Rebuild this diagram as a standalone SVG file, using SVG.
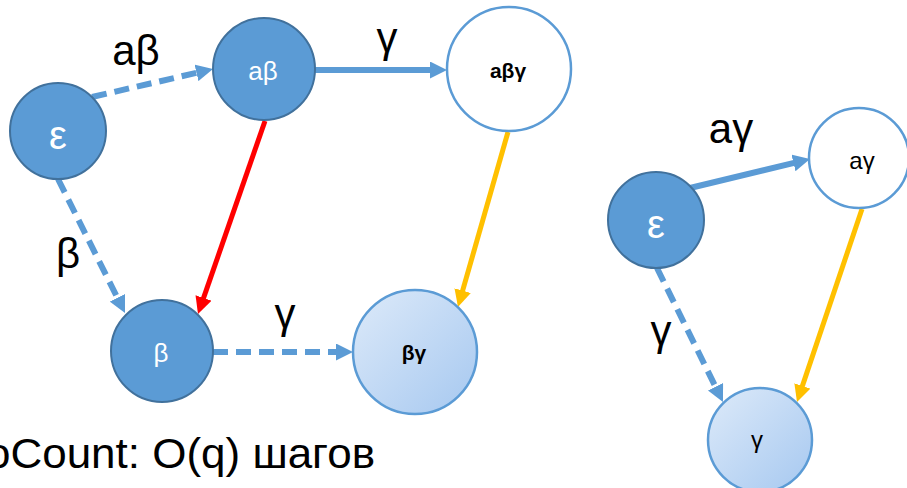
<svg xmlns="http://www.w3.org/2000/svg" width="907" height="488" viewBox="0 0 907 488">
<defs>
<linearGradient id="lg" x1="0" y1="0" x2="1" y2="1">
<stop offset="0" stop-color="#DDEAF9"/>
<stop offset="1" stop-color="#A6C8F0"/>
</linearGradient>
<marker id="ab" viewBox="0 0 17 17" refX="6" refY="8.5" markerWidth="17" markerHeight="17" markerUnits="userSpaceOnUse" orient="auto"><path d="M0,0 L17,8.5 L0,17 z" fill="#5B9BD5"/></marker>
<marker id="ar" viewBox="0 0 17 17" refX="6" refY="8.5" markerWidth="17" markerHeight="17" markerUnits="userSpaceOnUse" orient="auto"><path d="M0,0 L17,8.5 L0,17 z" fill="#FF0000"/></marker>
<marker id="ao" viewBox="0 0 17 17" refX="6" refY="8.5" markerWidth="17" markerHeight="17" markerUnits="userSpaceOnUse" orient="auto"><path d="M0,0 L17,8.5 L0,17 z" fill="#FFC000"/></marker>
</defs>
<style>
text{font-family:"Liberation Sans",Arial,sans-serif;text-anchor:middle}
.dark{fill:#5B9BD5;stroke:#41719C;stroke-width:2}
.white{fill:#FFFFFF;stroke:#5B9BD5;stroke-width:2.5}
.light{fill:url(#lg);stroke:#5B9BD5;stroke-width:2.5}
.e{fill:none;stroke-width:6}
.b{stroke:#5B9BD5;marker-end:url(#ab)}
.d{stroke-dasharray:15 8}
.r{stroke:#FF0000;stroke-width:5;marker-end:url(#ar)}
.o{stroke:#FFC000;stroke-width:5;marker-end:url(#ao)}
.lbl{font-size:42px;fill:#000}
.wl{fill:#FFFFFF}
</style>
<g id="connectors">
<line class="e b d" x1="92" y1="97" x2="202.3" y2="71.5"/>
<line class="e b" x1="315" y1="70" x2="436" y2="70"/>
<line class="e r" x1="265" y1="121" x2="201.6" y2="303.6"/>
<line class="e o" x1="508" y1="132" x2="461.0" y2="296.4"/>
<line class="e b d" x1="58" y1="179" x2="120.1" y2="303.2"/>
<line class="e b d" x1="213" y1="352" x2="342" y2="352"/>
<line class="e b" x1="690" y1="188" x2="799.3" y2="161.6"/>
<line class="e b d" x1="657" y1="268" x2="718.1" y2="392.1"/>
<line class="e o" x1="862" y1="209" x2="800.5" y2="391.6"/>
<text class="lbl" x="136" y="65">aβ</text>
<text class="lbl" x="387" y="52">γ</text>
<text class="lbl" x="68" y="268">β</text>
<text class="lbl" x="285" y="328">γ</text>
<text class="lbl" x="731" y="143">aγ</text>
<text class="lbl" x="661" y="345">γ</text>
</g>
<g id="n-eps1"><circle class="dark" cx="58" cy="131" r="48"/><text class="wl" x="58" y="149" font-size="40">ε</text></g>
<g id="n-ab"><circle class="dark" cx="264" cy="69" r="51"/><text class="wl" x="263" y="80" font-size="26">aβ</text></g>
<g id="n-abg"><circle class="white" cx="509" cy="69" r="62"/><text x="508" y="78" font-size="21" font-weight="bold">aβγ</text></g>
<g id="n-b"><circle class="dark" cx="162" cy="351" r="51"/><text class="wl" x="161" y="362" font-size="26">β</text></g>
<g id="n-bg"><circle class="light" cx="415" cy="352" r="62"/><text x="414" y="360" font-size="21" font-weight="bold">βγ</text></g>
<g id="n-eps2"><circle class="dark" cx="656" cy="220" r="48"/><text class="wl" x="656" y="238" font-size="40">ε</text></g>
<g id="n-ag"><circle class="white" cx="859" cy="158" r="50"/><text x="862" y="169" font-size="24">aγ</text></g>
<g id="n-g"><circle class="light" cx="760" cy="440" r="52"/><text x="757" y="448" font-size="24">γ</text></g>
<text x="-14" y="468" font-size="42" textLength="389" lengthAdjust="spacingAndGlyphs" style="text-anchor:start">oCount: O(q) шагов</text>
</svg>
